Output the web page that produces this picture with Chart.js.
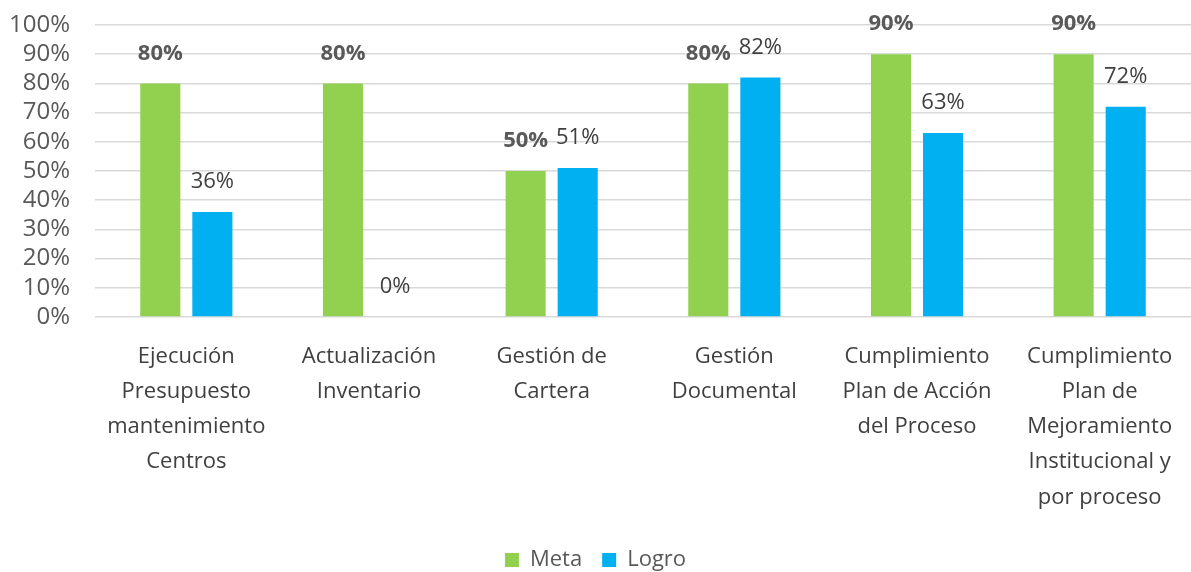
<!DOCTYPE html>
<html>
<head>
<meta charset="utf-8">
<script src="https://cdn.jsdelivr.net/npm/chart.js@4/dist/chart.umd.min.js"></script>
<style>
  html, body { margin: 0; padding: 0; background: #fff; }
  #wrap { width: 1191px; height: 572px; }
</style>
</head>
<body>
<div id="wrap"><canvas id="metaChart"></canvas></div>
<script>
// Meta vs Logro por proceso

const categories = [
    ['Ejecución', 'Presupuesto', 'mantenimiento', 'Centros'],
    ['Actualización', 'Inventario'],
    ['Gestión de', 'Cartera'],
    ['Gestión', 'Documental'],
    ['Cumplimiento', 'Plan de Acción', 'del Proceso'],
    ['Cumplimiento', 'Plan de', 'Mejoramiento', 'Institucional y', 'por proceso']
];
const meta = [80, 80, 50, 80, 90, 90];
const logro = [36, 0, 51, 82, 63, 72];
const yTicks = [0, 10, 20, 30, 40, 50, 60, 70, 80, 90, 100];

const FONT = "'Open Sans', 'Noto Sans', sans-serif";

// value labels above each bar
const barLabels = {
    id: 'barLabels',
    afterDatasetsDraw(chart) {
        const ctx = chart.ctx;
        ctx.save();
        ctx.textAlign = 'center';
        ctx.textBaseline = 'middle';
        chart.data.datasets.forEach((ds, i) => {
            const metaInfo = chart.getDatasetMeta(i);
            ctx.font = (i === 0 ? 'bold ' : '') + '22px ' + FONT;
            ctx.fillStyle = i === 0 ? '#595959' : '#404040';
            metaInfo.data.forEach((bar, j) => {
                ctx.fillText(ds.data[j] + '%', bar.x, bar.y - 30);
            });
        });
        ctx.restore();
    }
};

new Chart(document.getElementById('metaChart'), {
    type: 'bar',
    data: {
        labels: categories,
        datasets: [
            {
                label: 'Meta',
                data: meta,
                backgroundColor: '#92D050',
                barPercentage: 0.77,
                categoryPercentage: 0.57
            },
            {
                label: 'Logro',
                data: logro,
                backgroundColor: '#00B0F0',
                barPercentage: 0.77,
                categoryPercentage: 0.57
            }
        ]
    },
    plugins: [barLabels],
    options: {
        responsive: true,
        maintainAspectRatio: false,
        animation: false,
        layout: { padding: { top: 25, right: 0, left: 0, bottom: -9 } },
        plugins: {
            legend: {
                position: 'bottom',
                labels: {
                    boxWidth: 14,
                    boxHeight: 14,
                    padding: 20,
                    color: '#595959',
                    font: { family: FONT, size: 22 }
                }
            },
            tooltip: { enabled: false }
        },
        scales: {
            y: {
                min: 0,
                max: 100,
                afterBuildTicks: (axis) => { axis.ticks = yTicks.map(v => ({ value: v })); },
                afterFit: (axis) => {
                    axis.width = 95;
                    axis.paddingTop = 0;
                    axis.paddingBottom = 0;
                },
                grid: { color: '#d9d9d9', lineWidth: 1.5, drawTicks: false },
                border: { display: false },
                ticks: {
                    color: '#595959',
                    padding: 25,
                    autoSkip: false,
                    font: { family: FONT, size: 24 },
                    callback: (v) => v + '%'
                }
            },
            x: {
                afterFit: (axis) => { axis.height = 212; },
                grid: { display: false },
                border: { display: false },
                ticks: {
                    color: '#404040',
                    padding: 14,
                    maxRotation: 0,
                    autoSkip: false,
                    font: { family: FONT, size: 22, lineHeight: 1.6 }
                }
            }
        }
    }
});
</script>
</body>
</html>
